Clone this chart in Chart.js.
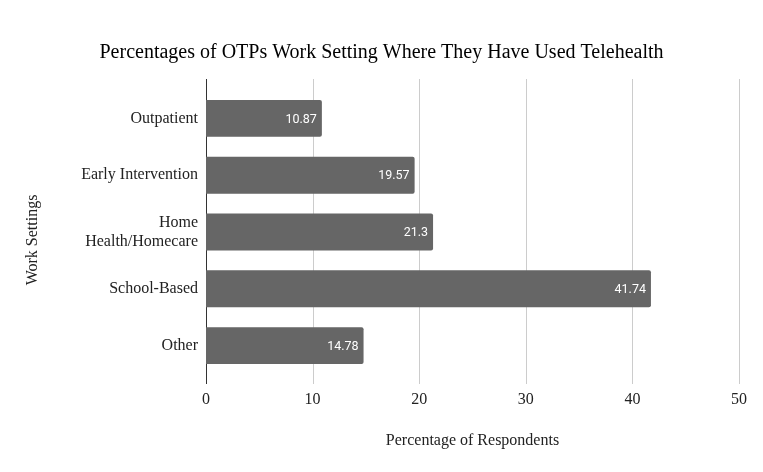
<!DOCTYPE html>
<html>
<head>
<meta charset="utf-8">
<script src="https://cdn.jsdelivr.net/npm/chart.js@4"></script>
<style>
  html, body { margin: 0; padding: 0; background: #fff; }
  #wrap { width: 763px; height: 472px; }
</style>
</head>
<body>
<div id="wrap"><canvas id="chart1"></canvas></div>
<script>

// data
const settings = ['Outpatient', 'Early Intervention', ['Home', 'Health/Homecare'], 'School-Based', 'Other'];
const percents = [10.87, 19.57, 21.3, 41.74, 14.78];
const xTicks = [0, 10, 20, 30, 40, 50];

const serif = '"Liberation Serif", "Times New Roman", serif';

// gridlines + axis line run a bit past the bars, like the original
const gridPlugin = {
  id: 'longGrid',
  beforeDatasetsDraw(chart) {
    const ctx = chart.ctx, x = chart.scales.x, a = chart.chartArea;
    const top = a.top - 11, bottom = a.bottom + 10;
    ctx.save();
    ctx.lineWidth = 1;
    ctx.strokeStyle = '#cccccc';
    xTicks.forEach(function(v){
      if (v === 0) return;
      const px = Math.round(x.getPixelForValue(v)) + 0.5;
      ctx.beginPath(); ctx.moveTo(px, top); ctx.lineTo(px, bottom); ctx.stroke();
    });
    ctx.strokeStyle = '#333333';
    const px0 = Math.round(x.getPixelForValue(0)) + 0.5;
    ctx.beginPath(); ctx.moveTo(px0, top); ctx.lineTo(px0, bottom); ctx.stroke();
    ctx.restore();
  }
};

// white value labels inside the end of each bar, plus the y axis title
const valuePlugin = {
  id: 'barValues',
  afterDatasetsDraw(chart) {
    const ctx = chart.ctx;
    const meta = chart.getDatasetMeta(0);
    ctx.save();
    ctx.fillStyle = '#ffffff';
    ctx.font = '12.5px Roboto, sans-serif';
    ctx.textAlign = 'right';
    ctx.textBaseline = 'middle';
    meta.data.forEach(function(bar, i){
      ctx.fillText(String(percents[i]), bar.x - 5, bar.y + 1);
    });
    ctx.restore();

    ctx.save();
    ctx.fillStyle = '#222';
    ctx.font = '16px ' + serif;
    ctx.textAlign = 'center';
    ctx.textBaseline = 'middle';
    ctx.translate(33, 240);
    ctx.rotate(-Math.PI / 2);
    ctx.fillText('Work Settings', 0, 0);
    ctx.restore();
  }
};

const config = {
  type: 'bar',
  data: {
    labels: settings,
    datasets: [{
      data: percents,
      backgroundColor: '#666666',
      borderRadius: 2,
      borderSkipped: 'start',
      barPercentage: 0.65,
      categoryPercentage: 1
    }]
  },
  options: {
    indexAxis: 'y',
    responsive: true,
    maintainAspectRatio: false,
    animation: false,
    layout: { padding: 0 },
    plugins: {
      legend: { display: false },
      tooltip: { enabled: false },
      title: {
        display: true,
        text: 'Percentages of OTPs Work Setting Where They Have Used Telehealth',
        color: '#000',
        font: { family: serif, size: 20, weight: 'normal' },
        padding: { top: 41, bottom: 25 }
      }
    },
    scales: {
      x: {
        min: 0, max: 50,
        afterBuildTicks(scale) { scale.ticks = xTicks.map(function(v){ return { value: v }; }); },
        afterFit(scale) { scale.height = 98; },
        grid: { display: false, drawTicks: false },
        border: { display: false },
        ticks: { color: '#222', font: { family: serif, size: 16 }, padding: 16 },
        title: {
          display: true,
          text: 'Percentage of Respondents',
          color: '#222',
          font: { family: serif, size: 16 },
          padding: { top: 0, bottom: 22 }
        }
      },
      y: {
        afterFit(scale) { scale.width = 206; },
        grid: { display: false, drawTicks: false },
        border: { display: false },
        ticks: { color: '#222', font: { family: serif, size: 16 }, padding: 8 }
      },
      // empty right-hand strip so the plot stops short of the edge
      yRight: {
        type: 'linear',
        position: 'right',
        afterFit(scale) { scale.width = 24; },
        grid: { display: false, drawTicks: false },
        border: { display: false },
        ticks: { display: false }
      }
    }
  },
  plugins: [gridPlugin, valuePlugin]
};

const myChart = new Chart(document.getElementById('chart1'), config);
</script>
</body>
</html>
